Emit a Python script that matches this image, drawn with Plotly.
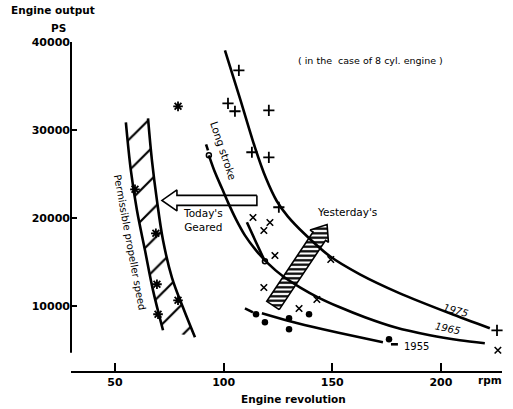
import numpy as np
import plotly.graph_objects as go

# ---------------- data ----------------
rpm_1975 = [100.6, 107.5, 114.4, 119.5, 124.5, 129.5, 137.4, 148.9, 162.7, 181.1, 204.1, 222.5]
ps_1975 = [39060, 33600, 28030, 24510, 21900, 20190, 18150, 15650, 13600, 11440, 9170, 7470]

rpm_1965 = [93.2, 96.0, 99.2, 102.0, 105.7, 109.8, 114.9, 120.4, 127.3, 135.1, 143.4, 153.5, 165.0, 178.8, 194.9, 208.7, 220.2]
ps_1965 = [27125, 25190, 23375, 21780, 19850, 18030, 16330, 14850, 13375, 12125, 10990, 9850, 8720, 7580, 6670, 6100, 5760]
rpm_1965_lead = [91.9, 92.8]
ps_1965_lead = [28375, 27690]

rpm_long = [110.7, 114.9, 119.0]
ps_long = [19510, 17240, 15080]

rpm_1955 = [117.6, 130.5, 145.7, 160.4, 173.3]
ps_1955 = [9170, 8260, 7350, 6560, 5875]
rpm_1955_lead = [109.8, 113.5]
ps_1955_lead = [9740, 9280]
rpm_1955_tail = [177.0, 180.2]
ps_1955_tail = [5650, 5650]

rpm_plus = [107.0, 102.0, 105.2, 120.8, 113.0, 120.8, 125.4, 225.8]
ps_plus = [36780, 33030, 32130, 32240, 27470, 26900, 21220, 7240]

rpm_x = [113.5, 121.3, 118.5, 123.6, 118.5, 134.7, 142.9, 149.3, 226.2]
ps_x = [20060, 19490, 18580, 15740, 12100, 9720, 10740, 15280, 4970]

rpm_dot = [114.9, 119.0, 130.1, 130.1, 139.3, 176.1]
ps_dot = [9060, 8150, 8600, 7350, 9060, 6220]

rpm_star = [79.0, 59.2, 68.8, 69.3, 79.0, 69.8]
ps_star = [32690, 23260, 18260, 12470, 10650, 9060]

rpm_circ = [93.2, 119.0]
ps_circ = [27125, 15080]

band_left_rpm = [55.0, 57.3, 60.1, 63.8, 67.5, 72.1]
band_left_ps = [30880, 25420, 20870, 16330, 11780, 7240]
band_right_rpm = [65.2, 67.0, 69.3, 72.1, 76.2, 81.3, 86.8]
band_right_ps = [31330, 26560, 22010, 17470, 13230, 9820, 6440]

x_ticks = [50, 100, 150, 200]
y_ticks = [10000, 20000, 30000, 40000]

# ---------------- layout geometry ----------------
W, H = 513, 409
ML, MR, MT, MB = 71, 11, 42, 38
PW, PH = W - ML - MR, H - MT - MB
XR = [29.75, 228.1]
YR = [2614, 40000]


def d2p(x, y):
    px = ML + (np.asarray(x) - XR[0]) / (XR[1] - XR[0]) * PW
    py = MT + (YR[1] - np.asarray(y)) / (YR[1] - YR[0]) * PH
    return px, py


def p2d(px, py):
    x = XR[0] + (np.asarray(px) - ML) / PW * (XR[1] - XR[0])
    y = YR[1] - (np.asarray(py) - MT) / PH * (YR[1] - YR[0])
    return x, y


def arrow_poly(tail, tip, bw, hw, hl):
    tx, ty = d2p(*tail)
    sx, sy = d2p(*tip)
    T = np.array([tx, ty], float)
    P = np.array([sx, sy], float)
    u = (P - T) / np.linalg.norm(P - T)
    n = np.array([-u[1], u[0]])
    B = P - u * hl
    pts = np.array([T + n * bw, B + n * bw, B + n * hw, P, B - n * hw, B - n * bw, T - n * bw, T + n * bw])
    return p2d(pts[:, 0], pts[:, 1])


fig = go.Figure()
LW = 2.6
K = "black"

# hatched band (permissible propeller speed)
bx = band_left_rpm + band_right_rpm[::-1] + [band_left_rpm[0]]
by = band_left_ps + band_right_ps[::-1] + [band_left_ps[0]]
fig.add_trace(go.Scatter(x=bx, y=by, mode="none", fill="toself", fillcolor="white",
                         fillpattern=dict(shape="/", size=22, solidity=0.1, fgcolor=K, bgcolor="white", fgopacity=1),
                         hoverinfo="skip", showlegend=False))
for xs, ys in [(band_left_rpm, band_left_ps), (band_right_rpm, band_right_ps)]:
    fig.add_trace(go.Scatter(x=xs, y=ys, mode="lines", line=dict(color=K, width=LW, shape="spline"), showlegend=False))

# "Today's Geared" open arrow
ax_, ay_ = arrow_poly((115.3, 22000), (71.6, 22000), 5, 10.5, 15)
fig.add_trace(go.Scatter(x=ax_, y=ay_, mode="lines", fill="toself", fillcolor="white",
                         line=dict(color=K, width=1.6), showlegend=False))

# "Yesterday's" hatched arrow
hx, hy = arrow_poly((122.7, 10060), (147.6, 19260), 7.5, 11, 14)
fig.add_trace(go.Scatter(x=hx, y=hy, mode="lines", fill="toself", fillcolor="white",
                         fillpattern=dict(shape="-", size=4.5, solidity=0.5, fgcolor=K, bgcolor="white", fgopacity=1),
                         line=dict(color=K, width=1.6), showlegend=False))

# curves
for xs, ys in [(rpm_1975, ps_1975), (rpm_1965, ps_1965), (rpm_1965_lead, ps_1965_lead), (rpm_long, ps_long),
               (rpm_1955, ps_1955), (rpm_1955_lead, ps_1955_lead), (rpm_1955_tail, ps_1955_tail)]:
    fig.add_trace(go.Scatter(x=xs, y=ys, mode="lines",
                             line=dict(color=K, width=LW, shape="spline", smoothing=0.8),
                             showlegend=False))

# markers
fig.add_trace(go.Scatter(x=rpm_plus, y=ps_plus, mode="markers", cliponaxis=False,
                         marker=dict(symbol="cross-thin", size=8, color=K, line=dict(color=K, width=1.8)), showlegend=False))
fig.add_trace(go.Scatter(x=rpm_x, y=ps_x, mode="markers", cliponaxis=False,
                         marker=dict(symbol="x-thin", size=6.5, color=K, line=dict(color=K, width=1.6)), showlegend=False))
fig.add_trace(go.Scatter(x=rpm_dot, y=ps_dot, mode="markers", cliponaxis=False,
                         marker=dict(symbol="circle", size=6.5, color=K), showlegend=False))
fig.add_trace(go.Scatter(x=rpm_star, y=ps_star, mode="markers", cliponaxis=False,
                         marker=dict(symbol="asterisk-open", size=8, color=K, line=dict(color=K, width=1.8)), showlegend=False))
fig.add_trace(go.Scatter(x=rpm_circ, y=ps_circ, mode="markers", cliponaxis=False,
                         marker=dict(symbol="circle-open", size=5, color=K, line=dict(color=K, width=1.5)),
                         showlegend=False))

FONT = "DejaVu Sans"
ann = []


def add_text(text, x, y, size, angle=0, bold=False, italic=False, xanchor="center"):
    t = f"<b>{text}</b>" if bold else text
    if italic:
        t = f"<i>{t}</i>"
    ann.append(dict(text=t, x=x, y=y, xref="x", yref="y", showarrow=False, textangle=angle,
                    xanchor=xanchor, yanchor="middle", font=dict(family=FONT, size=size, color=K)))


def add_px_text(text, px, py, size, bold=True):
    t = f"<b>{text}</b>" if bold else text
    ann.append(dict(text=t, x=(px - ML) / PW, y=(H - MB - py) / PH, xref="paper", yref="paper",
                    showarrow=False, xanchor="center", yanchor="middle",
                    font=dict(family=FONT, size=size, color=K)))


add_text("Long stroke", 99.7, 27690, 10.5, angle=71.6)
add_text("Permissible propeller speed", 56.9, 17240, 10, angle=79.5)
add_text("Today's<br>Geared", 90.5, 19720, 10.5)
add_text("Yesterday's", 156.7, 20650, 10.5)
add_text("( in the  case of 8 cyl. engine )", 167.8, 37920, 9.5)
add_text("1975", 206.9, 9510, 10, angle=15, italic=True)
add_text("1965", 203.2, 7470, 10, angle=12, italic=True)
add_text("1955", 182.3, 5420, 10, xanchor="left")
add_px_text("rpm", 490, 380, 10.5)
add_px_text("Engine revolution", 293, 399, 10.5)
add_px_text("Engine output", 53, 10, 10.5)
add_px_text("PS", 58, 28, 10.5)

fig.update_layout(
    width=W, height=H,
    margin=dict(l=ML, r=MR, t=MT, b=MB),
    paper_bgcolor="white", plot_bgcolor="white",
    showlegend=False,
    annotations=ann,
    shapes=[dict(type="line", xref="paper", yref="y", x0=0, x1=0, y0=4700, y1=40000,
                 line=dict(color=K, width=2))],
    xaxis=dict(range=XR, showgrid=False, zeroline=False, showline=True, linecolor=K, linewidth=2,
               ticks="inside", ticklen=8, tickwidth=1.5, tickcolor=K,
               tickvals=x_ticks, ticktext=[f"<b>{v}</b>" for v in x_ticks],
               tickfont=dict(family=FONT, size=11, color=K)),
    yaxis=dict(range=YR, showgrid=False, zeroline=False, showline=False,
               ticks="inside", ticklen=6, tickwidth=2, tickcolor=K,
               tickvals=y_ticks, ticktext=[f"<b>{v}</b>" for v in y_ticks],
               tickfont=dict(family=FONT, size=11, color=K)),
)

fig.write_html("out.html", config={"displayModeBar": False},
               post_script="document.body.style.margin='0px';document.body.style.padding='0px';document.body.style.overflow='hidden';")
